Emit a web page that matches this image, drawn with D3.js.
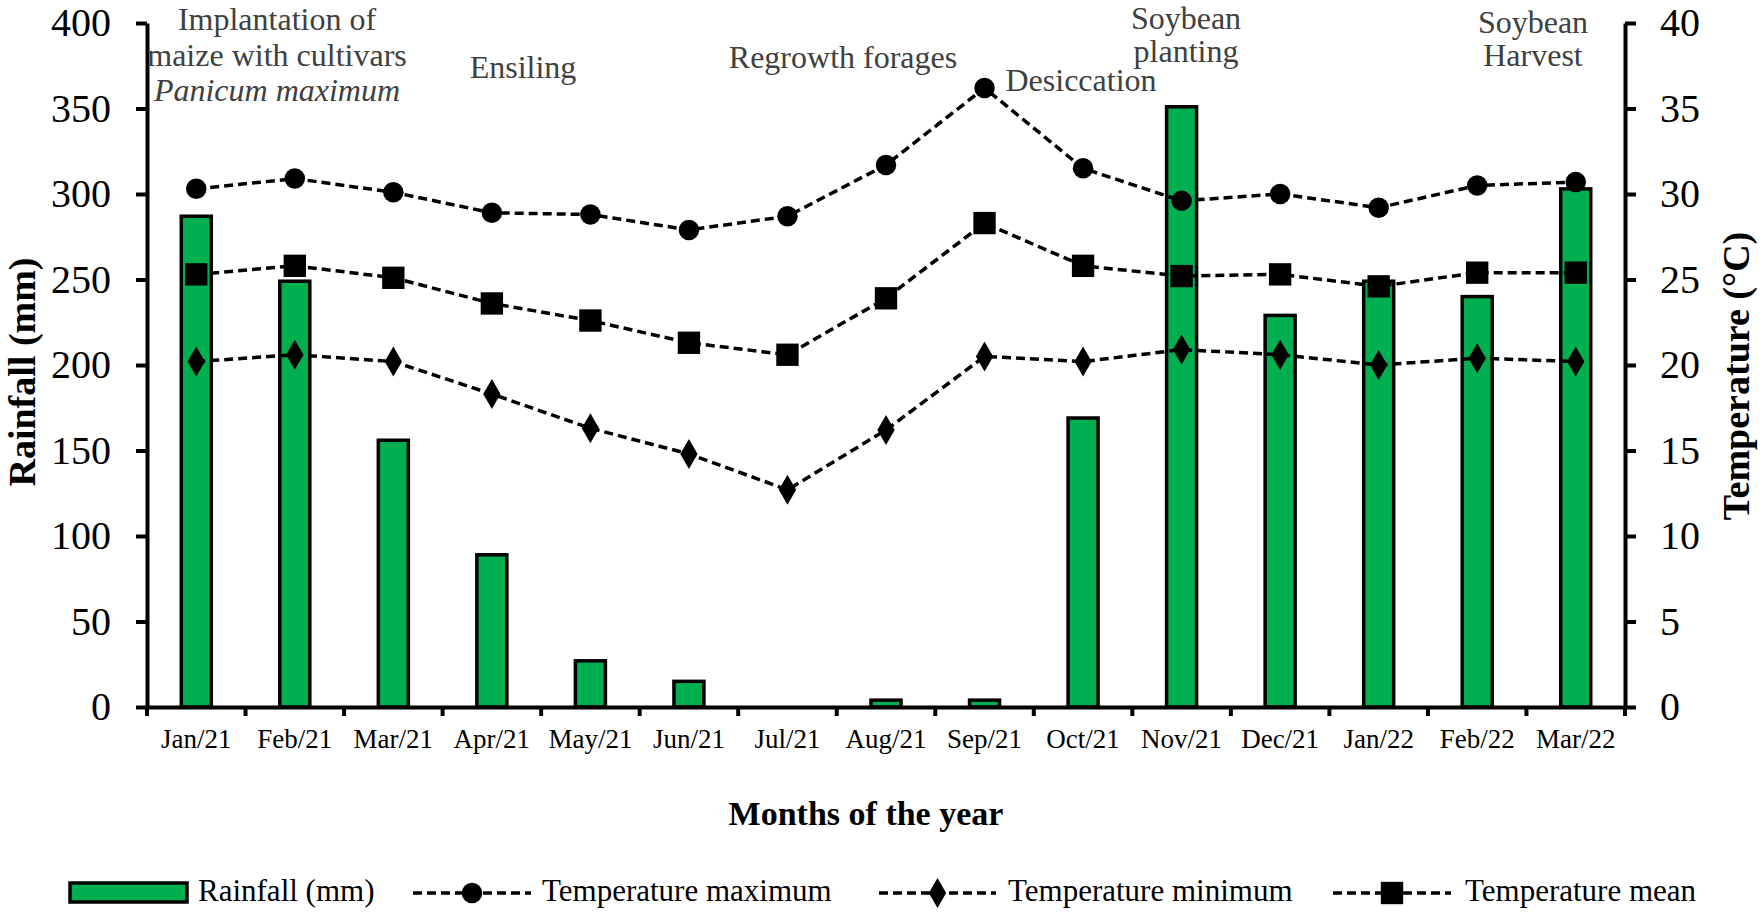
<!DOCTYPE html>
<html>
<head>
<meta charset="utf-8">
<script src="https://cdn.jsdelivr.net/npm/d3@7"></script>
<style>
  body { margin: 0; background: #fff; }
  svg { display: block; font-family: "Liberation Serif", "Times New Roman", serif; }
  svg text { font-family: "Liberation Serif", "Times New Roman", serif; }
</style>
</head>
<body>
<svg id="chart" width="1762" height="912"></svg>
<script>
const months = ['Jan/21','Feb/21','Mar/21','Apr/21','May/21','Jun/21','Jul/21','Aug/21',
                'Sep/21','Oct/21','Nov/21','Dec/21','Jan/22','Feb/22','Mar/22'];
const rainfall = [287, 249, 156, 89, 27, 15, 0, 4, 4, 169, 351, 229, 249, 240, 303];
const tempMax  = [30.3, 30.9, 30.1, 28.9, 28.8, 27.9, 28.7, 31.7, 36.2, 31.5, 29.6, 30.0, 29.2, 30.5, 30.7];
const tempMin  = [20.2, 20.6, 20.2, 18.3, 16.3, 14.8, 12.7, 16.2, 20.5, 20.2, 20.9, 20.6, 20.0, 20.4, 20.2];
const tempMean = [25.3, 25.8, 25.1, 23.6, 22.6, 21.3, 20.6, 23.9, 28.3, 25.8, 25.2, 25.3, 24.6, 25.4, 25.4];
const rainTicks = d3.range(0, 401, 50);
const tempTicks = d3.range(0, 41, 5);

const annotations = [
  {x: 277, lines: [{t: 'Implantation of', y: 30}, {t: 'maize with cultivars', y: 66}, {t: 'Panicum maximum', y: 101, italic: true}]},
  {x: 523, lines: [{t: 'Ensiling', y: 78}]},
  {x: 843, lines: [{t: 'Regrowth forages', y: 68}]},
  {x: 1081, lines: [{t: 'Desiccation', y: 91}]},
  {x: 1186, lines: [{t: 'Soybean', y: 29}, {t: 'planting', y: 62}]},
  {x: 1533, lines: [{t: 'Soybean', y: 33}, {t: 'Harvest', y: 66}]}
];

const svg = d3.select('#chart');
const plotLeft = 147, plotRight = 1625, plotTop = 23, plotBottom = 707;

const x = d3.scaleBand().domain(months).range([plotLeft, plotRight]).padding(0);
const yL = d3.scaleLinear().domain([0, 400]).range([plotBottom, plotTop]);
const yR = d3.scaleLinear().domain([0, 40]).range([plotBottom, plotTop]);
const cx = m => x(m) + x.bandwidth() / 2;

// bars
const barW = 30;
svg.append('g').selectAll('rect').data(rainfall).join('rect')
  .attr('x', (d, i) => cx(months[i]) - barW / 2)
  .attr('y', d => yL(d))
  .attr('width', barW)
  .attr('height', d => yL(0) - yL(d))
  .attr('fill', '#00B050')
  .attr('stroke', '#000')
  .attr('stroke-width', 3.5);

// axes
function styleAxis(g, size) {
  g.attr('font-family', null);
  g.selectAll('.domain').attr('stroke', '#000').attr('stroke-width', 4);
  g.selectAll('.tick line').attr('stroke', '#000').attr('stroke-width', 4);
  g.selectAll('.tick text').attr('fill', '#000').style('font-size', size + 'px');
}

svg.append('g').attr('transform', `translate(${plotLeft},0)`)
  .call(d3.axisLeft(yL).tickValues(rainTicks).tickSize(11).tickSizeOuter(0).tickPadding(25))
  .call(g => styleAxis(g, 40));

svg.append('g').attr('transform', `translate(${plotRight},0)`)
  .call(d3.axisRight(yR).tickValues(tempTicks).tickSize(11).tickSizeOuter(0).tickPadding(24))
  .call(g => styleAxis(g, 40));

svg.append('g').attr('transform', `translate(0,${plotBottom})`)
  .call(d3.axisBottom(x).tickSize(0).tickSizeOuter(0).tickPadding(22))
  .call(g => styleAxis(g, 27));

// category boundary ticks
svg.append('g').selectAll('line').data(months.concat(['end'])).join('line')
  .attr('x1', (d, i) => plotLeft + i * x.step())
  .attr('x2', (d, i) => plotLeft + i * x.step())
  .attr('y1', plotBottom)
  .attr('y2', plotBottom + 9)
  .attr('stroke', '#000')
  .attr('stroke-width', 4);

// temperature lines
const line = d3.line().x((d, i) => cx(months[i])).y(d => yR(d));
const series = [
  {values: tempMax, symbol: d3.symbolCircle, size: 330},
  {values: tempMin, symbol: d3.symbolDiamond, size: 260},
  {values: tempMean, symbol: d3.symbolSquare, size: 500}
];
series.forEach(s => {
  svg.append('path').datum(s.values)
    .attr('d', line)
    .attr('fill', 'none')
    .attr('stroke', '#000')
    .attr('stroke-width', 3.5)
    .attr('stroke-dasharray', '9,5');
  svg.append('g').selectAll('path').data(s.values).join('path')
    .attr('transform', (d, i) => `translate(${cx(months[i])},${yR(d)})`)
    .attr('d', d3.symbol().type(s.symbol).size(s.size))
    .attr('fill', '#000');
});

// axis titles
svg.append('text')
  .attr('transform', 'translate(35,372) rotate(-90)')
  .attr('text-anchor', 'middle')
  .style('font-size', '38px').style('font-weight', 'bold')
  .text('Rainfall (mm)');
svg.append('text')
  .attr('transform', 'translate(1749,376) rotate(-90)')
  .attr('text-anchor', 'middle')
  .style('font-size', '38px').style('font-weight', 'bold')
  .text('Temperature (°C)');
svg.append('text')
  .attr('x', 866).attr('y', 825)
  .attr('text-anchor', 'middle')
  .style('font-size', '34px').style('font-weight', 'bold')
  .text('Months of the year');

// annotations
annotations.forEach(a => {
  a.lines.forEach(l => {
    svg.append('text')
      .attr('x', a.x).attr('y', l.y)
      .attr('text-anchor', 'middle')
      .attr('fill', '#404040')
      .style('font-size', '32px')
      .style('font-style', l.italic ? 'italic' : 'normal')
      .text(l.t);
  });
});

// legend
const legY = 893;
const lg = svg.append('g');
lg.append('rect').attr('x', 70).attr('y', legY - 10).attr('width', 117).attr('height', 19)
  .attr('fill', '#00B050').attr('stroke', '#000').attr('stroke-width', 3.5);
lg.append('text').attr('x', 198).attr('y', legY + 8).style('font-size', '31px').text('Rainfall (mm)');

const legItems = [
  {x0: 413, x1: 531, symbol: d3.symbolCircle, size: 330, label: 'Temperature maximum', tx: 542},
  {x0: 879, x1: 996, symbol: d3.symbolDiamond, size: 260, label: 'Temperature minimum', tx: 1008},
  {x0: 1333, x1: 1451, symbol: d3.symbolSquare, size: 500, label: 'Temperature mean', tx: 1465}
];
legItems.forEach(it => {
  lg.append('line').attr('x1', it.x0).attr('x2', it.x1).attr('y1', legY).attr('y2', legY)
    .attr('stroke', '#000').attr('stroke-width', 3.5).attr('stroke-dasharray', '9,5');
  lg.append('path').attr('transform', `translate(${(it.x0 + it.x1) / 2},${legY})`)
    .attr('d', d3.symbol().type(it.symbol).size(it.size)).attr('fill', '#000');
  lg.append('text').attr('x', it.tx).attr('y', legY + 8).style('font-size', '31px').text(it.label);
});
</script>
</body>
</html>
